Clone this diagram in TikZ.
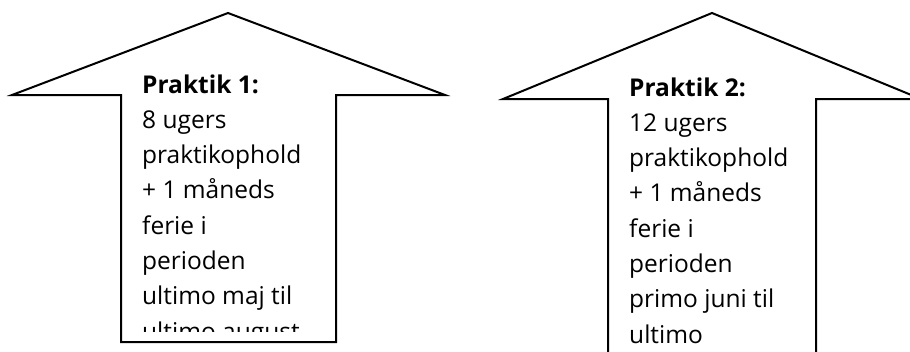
\documentclass[tikz,border=0pt]{standalone}
\usepackage{fontspec}
\setmainfont{Open Sans}

\newcommand{\praktiklines}[1]{\begin{tabular}[t]{@{}l@{}}#1\end{tabular}}

\begin{document}
\begin{tikzpicture}[x=1pt,y=-1pt,
  arrowshape/.style={draw=black,line width=2pt,line join=miter,fill=white},
  praktiktext/.style={anchor=base west,inner sep=0pt,
    font=\fontsize{24.5}{35.3}\selectfont}]
   \useasboundingbox (0,0) rectangle (910,351);
   \clip (0,0) rectangle (910,351);
   % the two arrows
   \draw[arrowshape] (228,13) -- (445,95) -- (336,95) -- (336,342)
      -- (121,342) -- (121,95) -- (12,95) -- cycle;
   \draw[arrowshape] (712,13) -- (921,99) -- (816,99) -- (816,360)
      -- (608,360) -- (608,99) -- (503,99) -- cycle;
   % the texts
   \begin{scope}
    \clip (121,60) rectangle (336,331);
    \node[praktiktext] (p1) at (142,93) {\praktiklines{\textbf{Praktik 1:}\\8 ugers\\praktikophold\\+ 1 måneds\\ferie i\\perioden\\ultimo maj til\\ultimo august}};
   \end{scope}
   \node[praktiktext] (p2) at (629,96) {\praktiklines{\textbf{Praktik 2:}\\12 ugers\\praktikophold\\+ 1 måneds\\ferie i\\perioden\\primo juni til\\ultimo}};
\end{tikzpicture}
\end{document}
